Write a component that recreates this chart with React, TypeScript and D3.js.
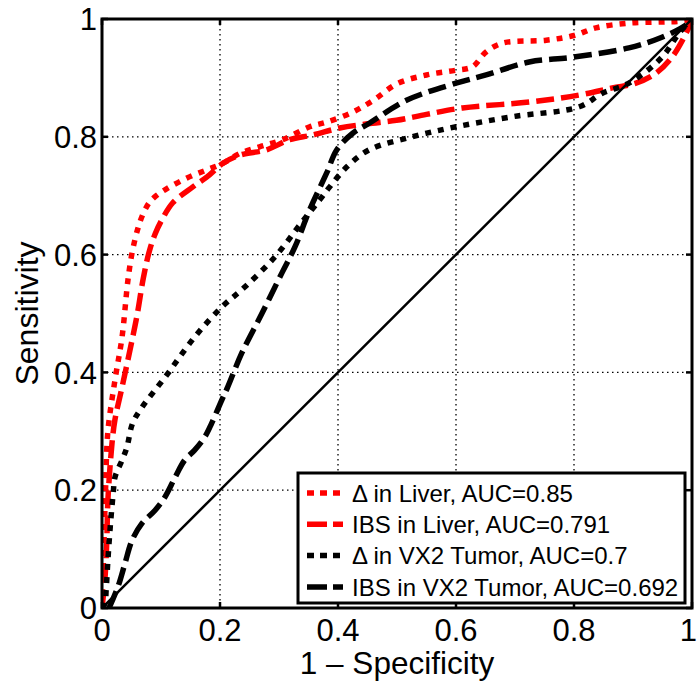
import React from "react";
import * as d3 from "d3";

const xTicks = [0, 0.2, 0.4, 0.6, 0.8, 1];
const yTicks = [0, 0.2, 0.4, 0.6, 0.8, 1];
const tickLabels = ["0", "0.2", "0.4", "0.6", "0.8", "1"];

const deltaLiverX = [0, 0.003, 0.006, 0.01, 0.022, 0.034, 0.044, 0.051, 0.061, 0.07, 0.08, 0.092, 0.11, 0.144, 0.178, 0.205, 0.234, 0.267, 0.306, 0.352, 0.381, 0.425, 0.46, 0.5, 0.55, 0.6, 0.628, 0.651, 0.679, 0.753, 0.8, 0.837, 0.893, 0.95, 0.978, 1];
const deltaLiverY = [0, 0.1, 0.2, 0.3, 0.387, 0.46, 0.557, 0.603, 0.645, 0.67, 0.688, 0.7, 0.712, 0.73, 0.744, 0.755, 0.772, 0.783, 0.795, 0.817, 0.825, 0.842, 0.862, 0.89, 0.905, 0.913, 0.919, 0.944, 0.959, 0.964, 0.972, 0.985, 0.993, 0.995, 0.996, 1];

const ibsLiverX = [0, 0.005, 0.008, 0.01, 0.017, 0.022, 0.034, 0.051, 0.06, 0.07, 0.08, 0.09, 0.102, 0.12, 0.154, 0.178, 0.205, 0.234, 0.279, 0.318, 0.357, 0.403, 0.45, 0.499, 0.55, 0.611, 0.724, 0.809, 0.865, 0.905, 0.939, 0.966, 0.99, 1];
const ibsLiverY = [0, 0.05, 0.11, 0.183, 0.28, 0.32, 0.375, 0.455, 0.5, 0.56, 0.605, 0.635, 0.66, 0.688, 0.715, 0.732, 0.755, 0.769, 0.778, 0.795, 0.803, 0.815, 0.822, 0.828, 0.838, 0.849, 0.859, 0.871, 0.883, 0.891, 0.908, 0.935, 0.976, 1];

const deltaVX2X = [0, 0.005, 0.007, 0.01, 0.014, 0.019, 0.022, 0.034, 0.042, 0.052, 0.068, 0.107, 0.157, 0.203, 0.242, 0.293, 0.338, 0.369, 0.386, 0.415, 0.453, 0.526, 0.6, 0.695, 0.809, 0.848, 0.893, 0.949, 0.978, 1];
const deltaVX2Y = [0, 0.008, 0.03, 0.081, 0.138, 0.195, 0.222, 0.251, 0.272, 0.314, 0.341, 0.392, 0.46, 0.511, 0.545, 0.596, 0.654, 0.693, 0.715, 0.749, 0.778, 0.8, 0.817, 0.834, 0.851, 0.874, 0.891, 0.935, 0.976, 1];

const ibsVX2X = [0.012, 0.027, 0.039, 0.051, 0.068, 0.09, 0.107, 0.124, 0.14, 0.157, 0.174, 0.186, 0.203, 0.213, 0.237, 0.271, 0.305, 0.327, 0.352, 0.381, 0.398, 0.425, 0.453, 0.516, 0.6, 0.651, 0.724, 0.797, 0.893, 0.949, 0.99, 1];
const ibsVX2Y = [0, 0.036, 0.076, 0.115, 0.144, 0.166, 0.189, 0.222, 0.251, 0.268, 0.29, 0.314, 0.353, 0.375, 0.433, 0.5, 0.569, 0.613, 0.676, 0.739, 0.778, 0.806, 0.823, 0.862, 0.891, 0.905, 0.927, 0.935, 0.951, 0.969, 0.99, 1];

const chanceX = [0, 1];
const chanceY = [0, 1];

const seriesNames = [
  "\u0394 in Liver, AUC=0.85",
  "IBS in Liver, AUC=0.791",
  "\u0394 in VX2 Tumor, AUC=0.7",
  "IBS in VX2 Tumor, AUC=0.692",
];
const seriesColors = ["#ff0000", "#ff0000", "#000000", "#000000"];
const seriesDash = ["6,7", "18,7", "6,7", "18,7"];

const W = 697;
const H = 685;
const M = { left: 102, right: 692, top: 19, bottom: 608 };
const FONT = "'Liberation Sans', Arial, Helvetica, sans-serif";

export default function App() {
  const x = d3.scaleLinear().domain([0, 1]).range([M.left, M.right]);
  const y = d3.scaleLinear().domain([0, 1]).range([M.bottom, M.top]);

  const seriesX = [deltaLiverX, ibsLiverX, deltaVX2X, ibsVX2X];
  const seriesY = [deltaLiverY, ibsLiverY, deltaVX2Y, ibsVX2Y];

  const line = d3
    .line<[number, number]>()
    .x((d) => x(d[0]))
    .y((d) => y(d[1]))
    .curve(d3.curveCatmullRom.alpha(0.5));

  const straight = d3
    .line<[number, number]>()
    .x((d) => x(d[0]))
    .y((d) => y(d[1]));

  const paths = seriesX.map((xs, i) =>
    line(xs.map((v, j) => [v, seriesY[i][j]] as [number, number]))
  );
  const chance = straight(chanceX.map((v, j) => [v, chanceY[j]] as [number, number]));

  const legX = 298;
  const legY = 473;
  const legW = 387;
  const legH = 130;
  const rowH = 31.3;

  const tickLen = 6;

  return (
    <svg
      width={W}
      height={H}
      style={{ position: "absolute", left: 0, top: 0, background: "#fff" }}
      fontFamily={FONT}
    >
      <rect x={0} y={0} width={W} height={H} fill="#fff" />
      <defs>
        <clipPath id="plotclip">
          <rect x={M.left} y={M.top} width={M.right - M.left} height={M.bottom - M.top} />
        </clipPath>
      </defs>
      {/* grid */}
      {xTicks.slice(1, -1).map((t) => (
        <line
          key={"gx" + t}
          x1={x(t)}
          x2={x(t)}
          y1={M.top}
          y2={M.bottom}
          stroke="#000"
          strokeWidth={1.3}
          strokeDasharray="1.5,3.5"
        />
      ))}
      {yTicks.slice(1, -1).map((t) => (
        <line
          key={"gy" + t}
          x1={M.left}
          x2={M.right}
          y1={y(t)}
          y2={y(t)}
          stroke="#000"
          strokeWidth={1.3}
          strokeDasharray="1.5,3.5"
        />
      ))}
      {/* ticks */}
      {xTicks.map((t) => (
        <g key={"tx" + t}>
          <line x1={x(t)} x2={x(t)} y1={M.bottom} y2={M.bottom - tickLen} stroke="#000" strokeWidth={2.5} />
          <line x1={x(t)} x2={x(t)} y1={M.top} y2={M.top + tickLen} stroke="#000" strokeWidth={2.5} />
        </g>
      ))}
      {yTicks.map((t) => (
        <g key={"ty" + t}>
          <line x1={M.left} x2={M.left + tickLen} y1={y(t)} y2={y(t)} stroke="#000" strokeWidth={2.5} />
          <line x1={M.right} x2={M.right - tickLen} y1={y(t)} y2={y(t)} stroke="#000" strokeWidth={2.5} />
        </g>
      ))}
      {/* curves */}
      <g clipPath="url(#plotclip)">
        {paths.map((p, i) => (
          <path
            key={"s" + i}
            d={p || ""}
            fill="none"
            stroke={seriesColors[i]}
            strokeWidth={5.5}
            strokeDasharray={seriesDash[i]}
          />
        ))}
        <path d={chance || ""} fill="none" stroke="#000" strokeWidth={2.5} />
      </g>
      {/* axes box */}
      <rect
        x={M.left}
        y={M.top}
        width={M.right - M.left}
        height={M.bottom - M.top}
        fill="none"
        stroke="#000"
        strokeWidth={3}
      />
      {/* tick labels */}
      {xTicks.map((t, i) => (
        <text
          key={"lx" + t}
          x={t === 1 ? 697 : x(t)}
          y={641}
          fontSize={31}
          textAnchor={t === 1 ? "end" : "middle"}
          fill="#000"
        >
          {tickLabels[i]}
        </text>
      ))}
      {yTicks.map((t, i) => (
        <text
          key={"ly" + t}
          x={97}
          y={y(t)}
          dy="0.36em"
          fontSize={31}
          textAnchor="end"
          fill="#000"
        >
          {tickLabels[i]}
        </text>
      ))}
      {/* axis labels */}
      <text x={(M.left + M.right) / 2} y={674} fontSize={31.5} textAnchor="middle" fill="#000">
        1 – Specificity
      </text>
      <text
        transform={`translate(38, ${(M.top + M.bottom) / 2}) rotate(-90)`}
        fontSize={32}
        textAnchor="middle"
        fill="#000"
      >
        Sensitivity
      </text>
      {/* legend */}
      <rect x={legX} y={legY} width={legW} height={legH} fill="#fff" stroke="#000" strokeWidth={3} />
      {seriesNames.map((name, i) => {
        const cy = legY + 20 + i * rowH;
        return (
          <g key={"leg" + i}>
            <line
              x1={legX + 9}
              x2={legX + 45}
              y1={cy}
              y2={cy}
              stroke={seriesColors[i]}
              strokeWidth={5.5}
              strokeDasharray={seriesDash[i] === "6,7" ? "7,6" : "20,6"}
            />
            <text x={legX + 54} y={cy} dy="0.36em" fontSize={24} fill="#000">
              {name}
            </text>
          </g>
        );
      })}
    </svg>
  );
}
